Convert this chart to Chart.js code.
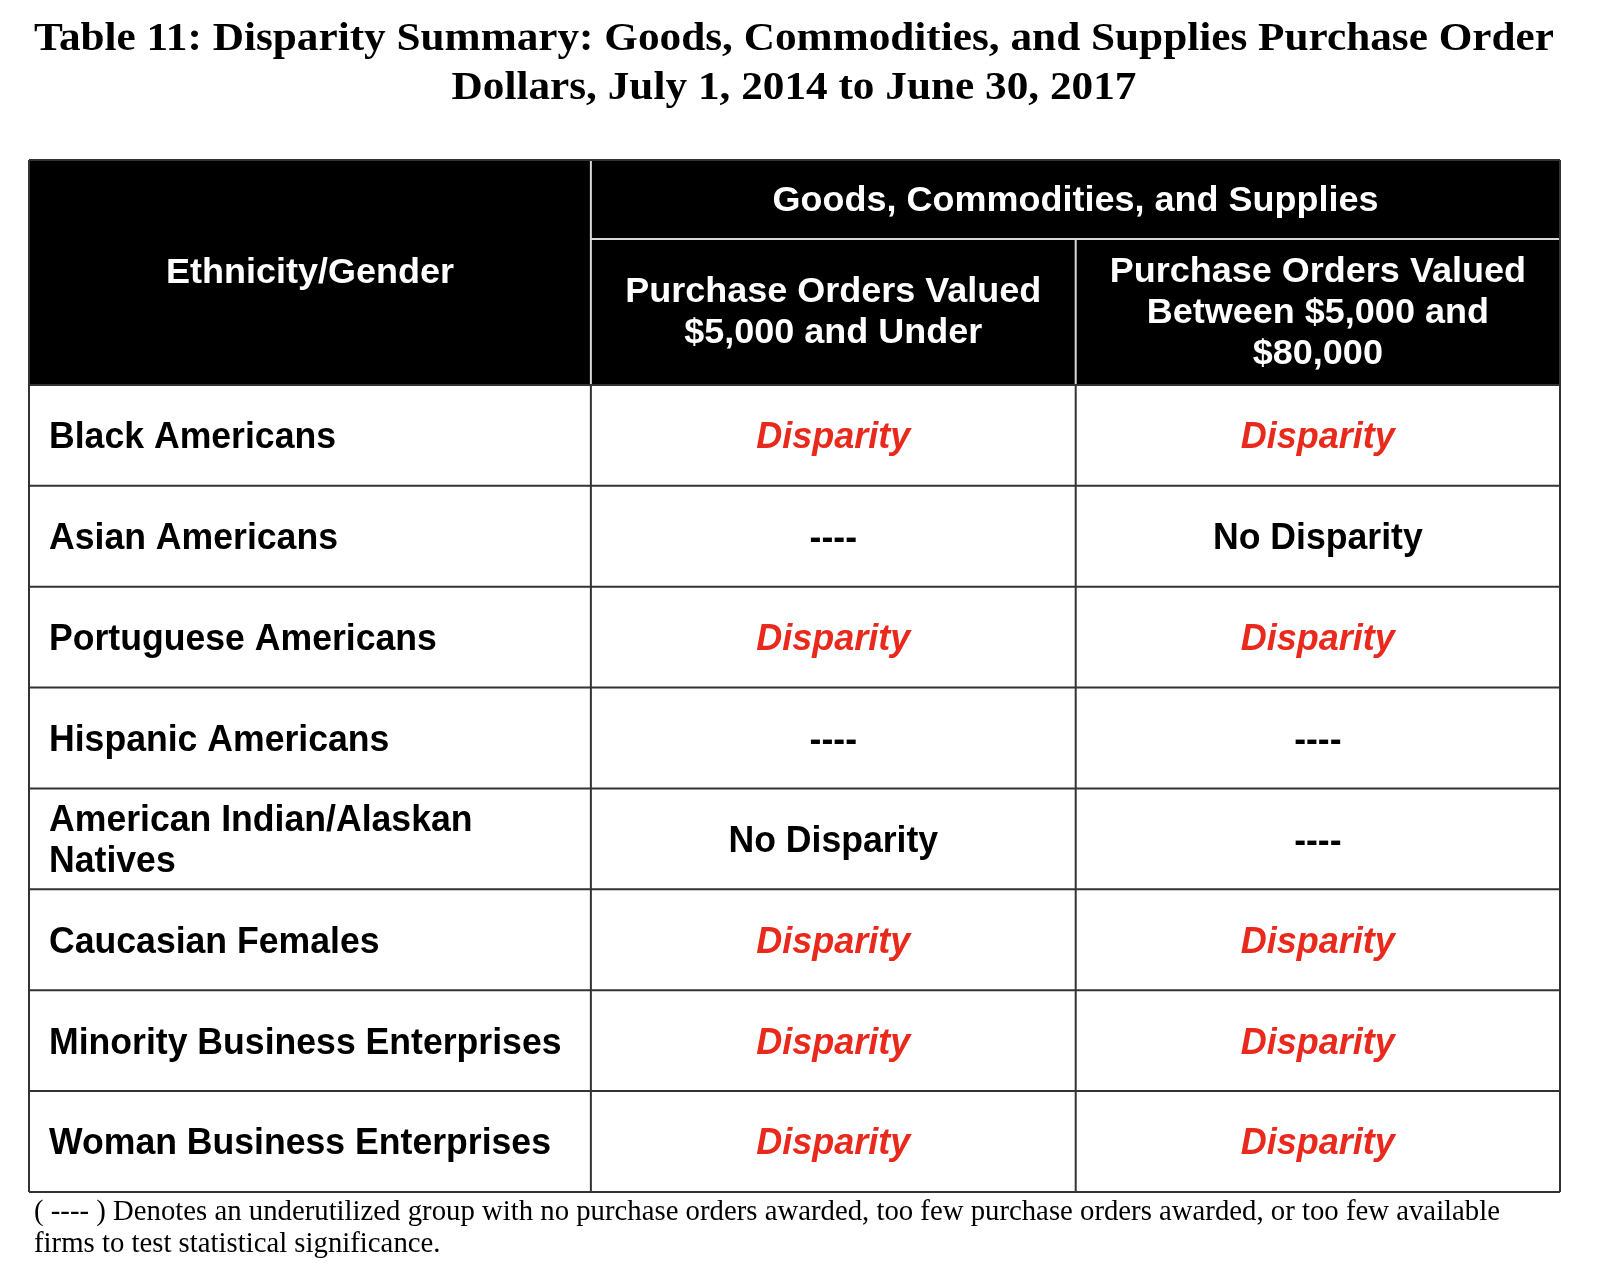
<!DOCTYPE html>
<html>
<head>
<meta charset="utf-8">
<script src="https://cdn.jsdelivr.net/npm/chart.js@4.4.1/dist/chart.umd.min.js"></script>
<style>
  html, body { margin: 0; padding: 0; background: #fff; }
  #wrap { width: 1600px; height: 1288px; }
</style>
</head>
<body>
<div id="wrap"><canvas id="tableChart" width="1600" height="1288"></canvas></div>
<script>
// table content
const titleLines = ['Table 11: Disparity Summary: Goods, Commodities, and Supplies Purchase Order',
                    'Dollars, July 1, 2014 to June 30, 2017'];
const groupHeader = 'Goods, Commodities, and Supplies';
const columnHeaders = ['Ethnicity/Gender',
                       'Purchase Orders Valued\n$5,000 and Under',
                       'Purchase Orders Valued\nBetween $5,000 and\n$80,000'];
const groups = ['Black Americans', 'Asian Americans', 'Portuguese Americans', 'Hispanic Americans',
                'American Indian/Alaskan\nNatives', 'Caucasian Females',
                'Minority Business Enterprises', 'Woman Business Enterprises'];
const underFive = ['Disparity', '----', 'Disparity', '----', 'No Disparity', 'Disparity', 'Disparity', 'Disparity'];
const fiveToEighty = ['Disparity', 'No Disparity', 'Disparity', '----', '----', 'Disparity', 'Disparity', 'Disparity'];
const footnoteLines = ['( ---- ) Denotes an underutilized group with no purchase orders awarded, too few purchase orders awarded, or too few available',
                       'firms to test statistical significance.'];

// layout (scale units)
var colEdges = [0, 1.101, 2.051, 3];
var headerTop = -2.23;
var headerSplit = -1.447;
var RED = '#e8291c';

function cellCenter(col) { return (colEdges[col] + colEdges[col + 1]) / 2; }

var sans = '"Liberation Sans", Arial, sans-serif';
var serif = '"Liberation Serif", "Times New Roman", serif';

// squeeze text so it has the width seen in the picture
function fitScale(ctx, font, ref, target) {
  ctx.save();
  ctx.font = font;
  var w = ctx.measureText(ref).width;
  ctx.restore();
  return target / w;
}

function drawLines(ctx, text, x, y, opt) {
  var lines = text.split('\n');
  var lh = opt.lineHeight || 41;
  var top = y - (lines.length - 1) * lh / 2;
  ctx.save();
  ctx.font = opt.font;
  ctx.fillStyle = opt.color;
  ctx.textBaseline = 'middle';
  ctx.textAlign = opt.align || 'center';
  for (var i = 0; i < lines.length; i++) {
    ctx.save();
    ctx.translate(x, top + i * lh);
    ctx.scale(opt.sx || 1, 1);
    ctx.fillText(lines[i], 0, 0);
    ctx.restore();
  }
  ctx.restore();
}

var tablePlugin = {
  id: 'tablePlugin',
  beforeDatasetsDraw: function(chart) {
    var ctx = chart.ctx;
    var xs = chart.scales.x, ys = chart.scales.y;
    var X = function(v) { return xs.getPixelForValue(v); };
    var Y = function(v) { return ys.getPixelForValue(v); };
    var left = X(0), right = X(3), top = Y(headerTop), bottom = Y(groups.length);

    // header block
    ctx.save();
    ctx.fillStyle = '#000';
    ctx.fillRect(left, top, right - left, Y(0) - top);

    // header inner lines
    ctx.strokeStyle = '#d8d8d8';
    ctx.lineWidth = 2;
    ctx.beginPath();
    ctx.moveTo(X(colEdges[1]), top); ctx.lineTo(X(colEdges[1]), Y(0));
    ctx.moveTo(X(colEdges[2]), Y(headerSplit)); ctx.lineTo(X(colEdges[2]), Y(0));
    ctx.moveTo(X(colEdges[1]), Y(headerSplit)); ctx.lineTo(right, Y(headerSplit));
    ctx.stroke();

    // body grid
    ctx.strokeStyle = '#333';
    ctx.lineWidth = 2;
    ctx.beginPath();
    for (var r = 0; r <= groups.length; r++) {
      ctx.moveTo(left, Y(r)); ctx.lineTo(right, Y(r));
    }
    for (var c = 0; c < colEdges.length; c++) {
      ctx.moveTo(X(colEdges[c]), Y(0)); ctx.lineTo(X(colEdges[c]), bottom);
    }
    ctx.moveTo(left, top); ctx.lineTo(right, top);
    ctx.moveTo(left, top); ctx.lineTo(left, Y(0));
    ctx.moveTo(right, top); ctx.lineTo(right, Y(0));
    ctx.stroke();
    ctx.restore();

    // header text
    var hFont = 'bold 35px ' + sans;
    var hsx = fitScale(ctx, hFont, 'Ethnicity/Gender', 288);
    drawLines(ctx, groupHeader, X((colEdges[1] + colEdges[3]) / 2), Y((headerTop + headerSplit) / 2) + 2,
              { font: hFont, color: '#fff', sx: hsx });
    drawLines(ctx, columnHeaders[0], X(cellCenter(0)), Y(headerTop / 2) + 1, { font: hFont, color: '#fff', sx: hsx });
    drawLines(ctx, columnHeaders[1], X(cellCenter(1)), Y(headerSplit / 2) + 1, { font: hFont, color: '#fff', sx: hsx });
    drawLines(ctx, columnHeaders[2], X(cellCenter(2)), Y(headerSplit / 2) + 1, { font: hFont, color: '#fff', sx: hsx });

    // title and footnote
    var tFont = 'bold 41px ' + serif;
    var tsx = fitScale(ctx, tFont, titleLines[0], 1520);
    drawLines(ctx, titleLines[0], 794, 39, { font: tFont, color: '#000', sx: tsx });
    drawLines(ctx, titleLines[1], 794, 88, { font: tFont, color: '#000', sx: tsx });

    var fFont = '29px ' + serif;
    var fsx = fitScale(ctx, fFont, footnoteLines[0], 1466);
    drawLines(ctx, footnoteLines[0], left + 5, bottom + 20, { font: fFont, color: '#000', sx: fsx, align: 'left' });
    drawLines(ctx, footnoteLines[1], left + 5, bottom + 52, { font: fFont, color: '#000', sx: fsx, align: 'left' });
  },
  afterDatasetsDraw: function(chart) {
    var ctx = chart.ctx;
    var bFont = 'bold 36px ' + sans;
    var iFont = 'italic bold 36px ' + sans;
    var bsx = fitScale(ctx, bFont, 'Black Americans', 287);
    var isx = fitScale(ctx, iFont, 'Disparity', 154);
    chart.data.datasets.forEach(function(ds, di) {
      var meta = chart.getDatasetMeta(di);
      meta.data.forEach(function(pt, i) {
        var txt = ds.cellText[i];
        if (di === 0) {
          drawLines(ctx, txt, chart.scales.x.getPixelForValue(0) + 20, pt.y + 3,
                    { font: bFont, color: '#000', sx: bsx, align: 'left' });
        } else if (txt === 'Disparity') {
          drawLines(ctx, txt, pt.x, pt.y + 3, { font: iFont, color: RED, sx: isx });
        } else {
          drawLines(ctx, txt, pt.x, pt.y + 3, { font: bFont, color: '#000', sx: bsx });
        }
      });
    });
  }
};

function cellPoints(col) {
  return groups.map(function(g, i) { return { x: cellCenter(col), y: i + 0.5 }; });
}

var ctx = document.getElementById('tableChart').getContext('2d');
var myChart = new Chart(ctx, {
  type: 'scatter',
  data: {
    datasets: [
      { label: columnHeaders[0], data: cellPoints(0), cellText: groups, pointRadius: 0 },
      { label: columnHeaders[1], data: cellPoints(1), cellText: underFive, pointRadius: 0 },
      { label: columnHeaders[2], data: cellPoints(2), cellText: fiveToEighty, pointRadius: 0 }
    ]
  },
  options: {
    responsive: false,
    animation: false,
    layout: { padding: { left: 29, right: 40, top: 160, bottom: 96 } },
    scales: {
      x: { type: 'linear', min: 0, max: 3, display: false },
      y: { type: 'linear', min: headerTop, max: groups.length, reverse: true, display: false }
    },
    plugins: {
      legend: { display: false },
      tooltip: { enabled: false },
      title: { display: false }
    }
  },
  plugins: [tablePlugin]
});
</script>
</body>
</html>
